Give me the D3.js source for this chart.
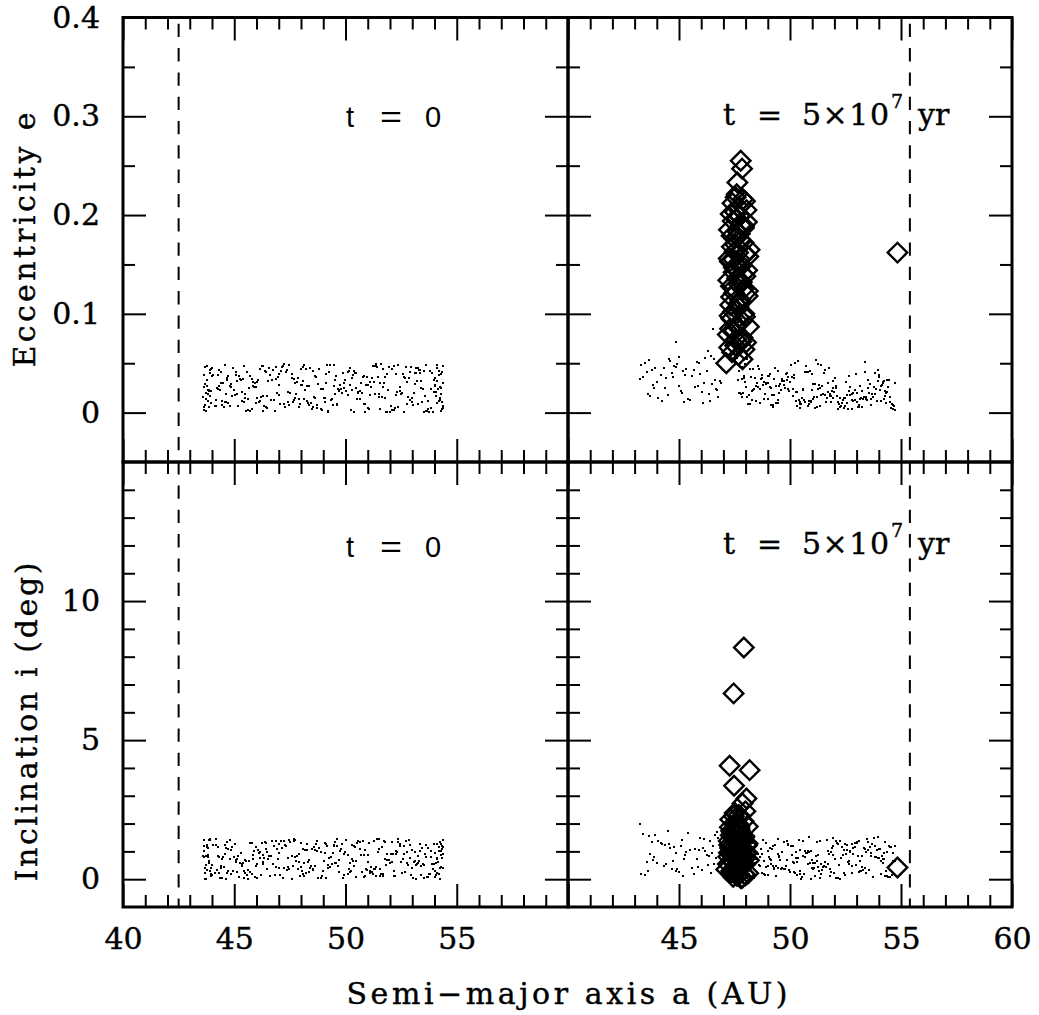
<!DOCTYPE html>
<html>
<head>
<meta charset="utf-8">
<script src="https://d3js.org/d3.v7.min.js"></script>
<style>
    body { margin: 0; background: #fff; }
</style>
</head>
<body>
<div id="chart"></div>
<script>
// ---- data: t = 0 (semi-major axis, eccentricity, inclination) ----
var t0A = [
 47.83,44.12,52.07,49.55,45.91,53.68,50.34,46.77,51.29,43.88,48.46,54.02,
 51.63,45.08,48.92,53.11,44.71,50.58,47.40,52.95,46.05,49.23,54.31,43.67,
 44.96,49.81,46.52,52.38,48.14,53.90,43.79,50.11,45.63,51.47,47.25,54.18,
 53.27,46.89,50.72,44.33,52.61,47.98,45.44,49.07,51.85,43.95,48.70,54.37,
 48.29,52.19,44.58,50.96,46.31,53.44,47.12,49.66,45.17,51.08,43.72,54.09,
 50.45,43.84,47.67,53.76,45.29,51.94,48.55,44.87,52.43,46.60,49.38,54.25,
 46.14,51.38,49.92,44.06,53.02,47.51,52.78,45.73,48.83,43.61,50.27,54.40,
 52.84,48.03,45.52,50.63,43.99,47.06,53.59,46.41,51.16,44.45,49.47,54.13,
 45.81,49.14,53.35,47.89,51.72,44.22,50.89,46.96,52.26,43.76,48.38,53.97,
 49.71,44.64,51.53,46.23,53.83,48.61,43.91,52.52,45.37,50.18,47.32,54.28,
 47.15,53.21,45.02,50.81,44.39,52.13,48.97,46.68,51.59,43.65,49.02,54.21,
 51.31,46.47,49.58,44.79,52.89,48.24,45.96,53.52,47.71,50.39,43.83,54.06,
 44.27,50.02,47.94,53.15,45.66,51.79,49.31,46.12,52.68,48.49,43.70,54.34,
 53.64,47.36,51.01,44.91,49.88,46.35,52.31,45.24,50.52,48.07,43.96,54.15,
 48.78,45.47,52.72,50.24,46.93,53.39,44.16,51.68,47.58,49.43,43.63,53.94,
 46.73,52.46,44.53,49.99,51.22,47.03,53.73,45.86,48.32,50.77,43.89,54.27,
 50.67,44.02,48.19,52.97,46.27,53.18,45.39,49.62,51.41,47.79,44.49,54.11,
 45.13,51.86,49.27,47.46,53.48,43.81,50.93,46.58,52.22,48.65,45.69,54.33,
 52.04,48.41,46.01,50.49,44.69,53.61,47.22,51.12,49.76,45.57,43.74,53.99,
 49.17,53.07,45.78,51.57,47.63,44.31,52.59,46.44,50.14,48.88,43.93,54.23,
 47.42,50.86,44.84,53.33,46.17,52.01,48.59,45.21,51.93,49.51,43.68,54.38,
 51.76,45.92,49.06,52.81,44.19,47.87,53.26,50.31,46.84,48.13,44.62,54.04,
 44.74,52.34,47.01,50.71,45.49,53.86,48.94,46.29,51.26,49.36,43.86,54.19,
 53.41,46.66,50.38,48.52,45.06,51.49,44.41,52.76,47.18,49.84,43.78,54.35,
 48.02,51.17,45.33,53.69,46.99,50.09,44.82,52.49,47.74,49.21,43.62,54.01,
 50.99,44.26,52.16,47.59,53.01,45.84,49.69,46.38,51.83,48.36,44.57,54.29,
 46.49,53.53,48.71,44.97,51.36,47.29,52.64,45.61,50.43,49.11,43.85,54.12,
 52.28,47.91,44.66,50.56,46.03,53.29,48.26,51.67,45.11,49.64,43.97,54.24,
 45.42,49.48,53.13,46.87,51.04,44.37,52.92,48.11,47.47,50.83,43.66,54.07,
 49.94,46.21,51.51,44.44,53.79,47.68,45.99,52.11,48.68,50.21,43.73,54.36
];
var t0E = [
 .031,.007,.044,.019,.026,.002,.038,.013,.047,.023,.010,.035,
 .016,.041,.004,.029,.037,.021,.011,.046,.033,.001,.025,.008,
 .045,.024,.032,.006,.014,.040,.027,.018,.003,.036,.049,.012,
 .009,.034,.020,.043,.001,.028,.047,.015,.039,.022,.005,.030,
 .027,.003,.048,.036,.017,.011,.042,.024,.007,.031,.020,.045,
 .040,.019,.013,.001,.033,.046,.006,.029,.022,.038,.014,.026,
 .012,.047,.025,.038,.008,.020,.031,.002,.044,.016,.035,.005,
 .035,.028,.002,.022,.045,.009,.017,.041,.026,.012,.048,.032,
 .004,.039,.043,.014,.030,.025,.001,.036,.018,.047,.008,.021,
 .023,.011,.030,.047,.005,.037,.043,.020,.012,.028,.041,.002,
 .046,.032,.018,.009,.041,.003,.024,.033,.049,.006,.015,.038,
 .019,.005,.037,.027,.013,.044,.010,.001,.030,.042,.023,.017,
 .038,.022,.009,.045,.025,.015,.048,.011,.035,.004,.029,.041,
 .002,.043,.028,.017,.040,.007,.021,.034,.014,.046,.010,.024,
 .029,.015,.046,.003,.020,.032,.013,.044,.039,.008,.026,.001,
 .043,.026,.006,.033,.047,.018,.004,.027,.010,.036,.040,.019,
 .014,.037,.023,.011,.002,.040,.034,.008,.046,.019,.030,.048,
 .032,.001,.041,.048,.024,.012,.028,.045,.005,.015,.037,.011,
 .007,.045,.015,.025,.035,.048,.009,.018,.028,.041,.002,.033,
 .048,.020,.034,.004,.011,.027,.039,.006,.042,.024,.017,.013,
 .021,.009,.026,.040,.044,.001,.016,.037,.023,.033,.046,.007,
 .036,.030,.011,.016,.007,.035,.045,.023,.002,.048,.019,.028,
 .010,.048,.039,.030,.019,.024,.003,.047,.031,.013,.006,.042,
 .025,.013,.001,.042,.038,.016,.030,.009,.047,.020,.033,.004,
 .044,.035,.021,.012,.028,.041,.007,.019,.015,.002,.038,.027,
 .005,.024,.047,.035,.015,.031,.022,.042,.001,.027,.011,.039,
 .017,.042,.008,.023,.049,.006,.036,.014,.040,.030,.022,.010,
 .039,.006,.033,.020,.031,.043,.012,.026,.019,.009,.044,.015,
 .011,.027,.040,.046,.004,.023,.041,.032,.008,.037,.003,.021,
 .030,.016,.019,.008,.042,.034,.026,.003,.036,.045,.014,.047
];
var t0I = [
 0.84,0.21,1.33,0.57,1.02,0.09,0.66,1.21,0.35,1.41,0.48,0.93,
 1.17,0.63,0.04,0.99,0.29,1.38,0.77,0.15,1.06,0.52,1.26,0.41,
 0.31,1.09,0.72,1.44,0.13,0.55,1.24,0.87,0.02,0.96,0.39,1.15,
 0.58,1.36,0.25,0.81,1.19,0.44,0.06,1.30,0.70,0.18,1.00,1.42,
 1.28,0.11,0.90,0.33,0.62,1.12,1.39,0.47,0.83,0.24,0.01,0.74,
 0.07,0.79,1.43,0.20,0.95,0.68,0.37,1.04,1.25,0.12,0.56,1.32,
 0.97,0.45,0.16,1.22,0.03,1.35,0.59,0.26,1.13,0.85,0.71,0.40,
 1.40,0.28,0.64,1.07,0.50,0.14,0.89,1.29,0.43,0.05,1.18,0.76,
 0.19,1.26,1.01,0.61,1.37,0.34,0.10,0.73,0.92,1.16,0.27,0.53,
 0.69,0.00,0.38,1.31,0.80,1.05,1.44,0.22,0.49,0.60,1.20,0.86,
 1.11,0.54,1.27,0.08,0.42,0.91,0.30,1.37,0.17,0.78,0.65,1.03,
 0.36,0.98,0.60,0.74,1.23,0.23,1.14,0.04,1.40,0.46,0.88,0.15,
 0.82,1.41,0.12,0.51,0.67,1.34,0.44,0.94,0.27,1.08,0.02,1.19,
 1.24,0.33,0.87,1.16,0.06,0.76,0.99,0.57,1.30,0.20,0.41,0.63,
 0.05,0.70,1.36,0.28,1.10,0.48,1.22,0.13,0.85,0.93,1.42,0.37,
 0.53,1.20,0.45,0.96,0.19,1.28,0.09,0.72,0.61,1.38,0.31,1.02,
 1.35,0.16,1.06,0.39,0.88,0.01,0.58,1.18,1.44,0.66,0.79,0.24,
 0.26,0.92,0.75,1.42,0.55,1.13,0.35,0.83,0.11,0.47,1.29,1.07,
 0.90,0.41,0.03,0.65,1.32,0.81,1.39,0.29,1.00,0.14,0.52,1.25,
 1.19,0.62,1.30,0.10,0.46,0.24,0.71,1.09,0.37,0.98,1.41,0.00,
 0.43,1.04,0.18,1.27,0.77,0.59,1.15,0.08,0.68,1.34,0.22,0.89,
 0.73,0.07,0.94,0.50,1.43,0.36,0.82,1.23,0.16,0.60,1.11,0.30,
 1.07,1.33,0.40,0.86,0.23,1.01,0.12,0.54,1.37,0.78,0.64,0.19,
 0.14,0.84,1.21,0.32,0.69,1.44,0.49,0.97,0.05,1.26,0.34,0.75,
 1.31,0.27,0.56,1.12,0.95,0.17,1.40,0.63,0.80,0.42,1.03,0.09,
 0.61,1.17,0.29,0.02,1.06,0.86,0.25,1.35,0.51,0.70,1.24,0.45,
 0.38,0.50,1.39,0.79,0.13,1.22,0.91,0.33,1.14,0.04,0.57,1.28,
 1.02,0.89,0.21,1.36,0.54,0.65,1.05,0.18,0.74,1.43,0.11,0.40,
 0.28,1.23,0.67,0.44,1.29,0.03,0.76,1.10,0.35,0.87,1.18,0.58,
 0.92,0.14,1.08,0.71,0.20,1.38,0.47,0.62,1.27,0.26,0.83,1.16
];

// ---- data: t = 5e7 yr, particles not in resonance (dots) ----
var t1A = [
 43.24,44.61,45.87,43.92,46.35,44.18,45.02,46.71,43.55,45.49,
 44.93,46.12,43.71,45.66,44.37,46.58,43.38,45.21,44.76,46.02,
 45.94,43.83,46.44,44.05,45.33,46.83,44.52,43.47,45.71,46.27,
 44.24,45.58,43.64,46.66,44.85,45.12,43.99,46.19,45.40,44.68,
 46.49,43.31,45.08,44.43,46.76,45.79,43.77,44.99,46.08,45.27,
 44.31,46.61,43.59,45.91,44.72,46.38,45.16,43.86,44.57,46.88,
 44.88,46.52,46.31,
 50.31,47.84,53.12,48.57,51.66,54.43,49.09,52.78,48.93,50.87,53.95,51.40,
 52.55,49.71,47.69,51.23,54.28,48.41,50.12,53.37,49.48,52.06,54.71,51.95,
 48.72,53.64,50.58,47.97,52.29,49.33,51.81,54.09,50.94,48.26,53.03,51.17,
 54.56,51.52,48.05,52.91,49.86,50.43,47.76,53.48,51.03,49.17,52.67,48.64,
 49.52,52.18,54.19,48.88,50.69,53.26,51.34,47.91,52.43,50.05,54.62,49.95,
 51.08,48.33,52.84,50.26,53.79,49.62,54.34,51.73,47.63,53.15,49.01,50.81,
 53.53,50.99,49.24,54.01,48.15,52.37,51.59,48.79,50.51,53.88,47.82,52.98,
 48.49,54.75,51.27,49.78,52.61,47.73,53.41,50.18,51.88,49.39,54.22,52.12,
 50.76,49.13,53.71,52.24,48.68,51.46,50.37,54.51,48.02,53.09,51.98,49.57,
 52.81,47.95,50.64,54.13,49.44,53.32,48.37,51.76,52.49,50.02,48.99,54.66,
 49.89,53.19,52.03,48.21,51.14,54.38,50.47,49.28,53.82,47.66,51.63,52.72,
 51.35,48.56,54.27,50.91,52.95,49.07,53.58,48.11,50.23,51.92,54.05,49.66,
 54.17,52.41,49.35,47.88,50.73,53.01,51.21,48.84,52.58,49.81,53.67,50.39,
 48.29,50.97,51.84,53.44,49.16,52.17,54.47,50.58,48.61,53.91,51.31,47.79,
 53.28,49.51,48.07,51.69,54.58,50.14,52.86,49.93,53.73,48.45,52.26,50.83,
 50.08,54.09,52.64,49.23,51.49,47.86,53.17,51.02,49.71,54.31,48.76,52.33,
 52.19,48.91,50.55,53.99,48.34,51.78,49.46,54.68,50.29,52.79,47.99,53.51,
 49.12,51.57,54.36,50.44,53.06,48.52,52.48,49.87,51.26,48.18,53.84,50.96,
 51.83,53.39,48.66,52.09,50.17,54.24,49.58,51.11,53.62,50.69,49.03,47.71,
 53.96,50.33,51.94,48.81,52.71,49.29,50.86,53.23,48.28,51.38,54.49,52.54
];
var t1E = [
 .034,.052,.027,.045,.019,.038,.056,.023,.041,.013,
 .049,.030,.017,.043,.025,.054,.036,.011,.047,.021,
 .039,.028,.057,.015,.044,.032,.018,.050,.026,.042,
 .012,.037,.053,.024,.046,.020,.031,.055,.014,.040,
 .029,.048,.022,.035,.016,.051,.043,.027,.010,.038,
 .045,.033,.019,.050,.036,.012,.042,.025,.054,.030,
 .071,.085,.062,
 .021,.034,.008,.047,.015,.026,.039,.004,.030,.012,.043,.018,
 .010,.028,.042,.006,.022,.035,.017,.051,.013,.025,.003,.032,
 .038,.014,.024,.031,.007,.045,.019,.027,.011,.036,.020,.053,
 .005,.040,.016,.023,.033,.009,.046,.013,.029,.018,.037,.024,
 .027,.011,.031,.019,.041,.006,.025,.035,.015,.048,.008,.022,
 .016,.044,.020,.012,.026,.032,.010,.021,.055,.014,.030,.007,
 .033,.023,.006,.036,.018,.013,.043,.028,.009,.024,.016,.039,
 .012,.030,.049,.025,.004,.020,.014,.038,.022,.010,.032,.017,
 .041,.008,.019,.015,.034,.027,.052,.011,.026,.006,.021,.029,
 .019,.037,.013,.028,.010,.016,.024,.045,.007,.031,.014,.004,
 .024,.015,.035,.009,.029,.021,.005,.018,.040,.033,.011,.026,
 .007,.026,.017,.042,.013,.037,.020,.009,.050,.015,.023,.034,
 .030,.005,.027,.020,.047,.011,.016,.031,.018,.039,.008,.013,
 .022,.039,.011,.016,.025,.004,.033,.023,.044,.012,.028,.019,
 .014,.020,.054,.030,.009,.024,.012,.036,.016,.027,.006,.041,
 .036,.012,.022,.008,.019,.046,.027,.014,.032,.020,.035,.010,
 .009,.029,.015,.038,.023,.017,.042,.007,.021,.013,.049,.025,
 .026,.018,.033,.011,.006,.030,.015,.040,.024,.044,.019,.012,
 .017,.041,.010,.027,.035,.014,.023,.005,.029,.011,.037,.020,
 .032,.007,.025,.014,.018,.034,.009,.022,.013,.048,.016,.031
];
var t1I = [
 2.00,1.12,0.45,1.58,0.82,1.31,0.27,1.69,0.63,1.05,
 0.38,1.44,0.91,0.19,1.23,0.56,1.62,0.74,1.17,0.33,
 1.49,0.68,0.22,1.36,0.97,0.51,1.73,0.14,1.08,0.86,
 1.27,0.41,1.55,0.77,0.29,1.41,0.60,1.01,1.66,0.36,
 0.94,0.17,1.20,0.53,1.47,0.71,1.34,0.25,1.13,0.88,
 0.47,1.59,0.31,1.04,0.65,1.38,0.12,0.80,1.25,0.58,
 0.95,1.21,0.52,
 0.62,1.14,0.27,0.89,1.41,0.08,0.73,1.25,0.44,0.97,1.52,0.18,
 1.06,0.35,0.81,1.33,0.13,0.58,1.19,0.40,0.92,0.03,0.67,1.47,
 0.24,0.95,1.38,0.51,0.77,1.22,0.10,0.64,1.02,0.31,1.29,0.85,
 1.17,0.46,0.05,1.31,0.69,0.20,0.90,1.45,0.37,1.08,0.56,0.79,
 0.83,1.27,0.60,0.14,1.00,0.43,1.36,0.71,0.22,1.18,0.93,0.33,
 0.39,0.07,1.11,0.75,1.49,0.96,0.28,0.55,1.24,0.66,0.16,1.03,
 1.34,0.70,0.47,1.09,0.19,0.87,0.61,1.40,0.02,0.79,1.21,0.52,
 0.15,1.20,0.88,0.36,0.63,1.42,0.98,0.25,1.13,0.49,0.74,1.30,
 0.94,0.54,1.26,0.01,1.07,0.32,0.76,1.16,0.59,1.37,0.21,0.68,
 0.48,1.39,0.17,0.84,0.41,1.12,0.05,0.90,1.28,0.26,1.01,0.65,
 1.23,0.29,0.72,1.46,0.57,0.11,1.05,0.38,0.80,1.19,0.45,0.99,
 0.06,0.91,1.32,0.60,1.15,0.78,0.34,1.48,0.23,0.86,1.10,0.42,
 0.71,1.04,0.12,0.53,0.95,1.35,0.64,0.20,1.22,0.47,0.82,1.40,
 1.29,0.40,0.97,0.24,0.69,0.04,1.18,0.85,0.50,1.06,0.30,0.76,
 0.33,0.81,1.44,1.02,0.15,0.61,0.89,1.27,0.09,0.73,1.38,0.54,
 0.87,0.19,0.66,1.21,0.43,1.09,0.28,0.58,1.33,0.13,0.92,1.15,
 0.52,1.31,0.08,0.77,1.16,0.36,1.43,0.67,0.96,0.22,0.59,1.04,
 1.11,0.63,0.98,0.30,0.84,1.25,0.14,1.37,0.44,0.71,1.20,0.02,
 0.27,1.07,0.49,1.39,0.57,0.93,0.35,0.11,1.14,0.80,0.46,1.28,
 0.75,0.16,1.19,0.65,1.01,0.39,1.50,0.83,0.26,0.55,0.09,0.91
];

// ---- data: t = 5e7 yr, resonant particles (diamonds) ----
var resA = [
 47.78,47.84,47.63,47.92,47.46,47.28,48.18,47.48,48.04,47.86,
 47.13,47.86,47.55,47.41,47.70,47.97,47.33,47.61,48.06,47.25,
 47.74,47.50,47.91,47.38,47.66,48.12,47.29,47.82,47.57,47.99,
 47.22,47.69,47.44,48.09,47.76,47.31,47.59,47.94,47.36,47.72,
 48.15,47.49,47.20,47.81,47.53,47.95,47.39,47.67,47.26,48.02,
 47.58,47.85,47.43,47.71,48.10,47.34,47.62,47.89,47.47,47.75,
 47.24,48.00,47.54,47.80,47.37,47.65,47.93,47.42,47.73,47.52,
 47.88,47.60,47.35,47.83,48.07,47.51,47.68,47.30,47.97,47.56,
 47.79,47.45,47.90,47.64,54.84
];
var resE = [
 .255,.247,.233,.187,.142,.098,.165,.121,.205,.076,
 .050,.054,.218,.212,.208,.214,.201,.196,.193,.185,
 .181,.176,.172,.168,.162,.158,.153,.149,.145,.138,
 .134,.130,.126,.118,.114,.109,.104,.100,.095,.091,
 .087,.083,.079,.072,.068,.064,.061,.058,.066,.071,
 .088,.093,.102,.111,.123,.128,.136,.140,.147,.151,
 .156,.160,.170,.174,.179,.183,.189,.194,.199,.203,
 .216,.221,.117,.132,.144,.163,.107,.085,.097,.074,
 .190,.155,.125,.178,.162
];
var resI = [
 1.10,0.62,1.45,8.33,6.68,4.08,3.92,3.36,2.90,2.72,
 0.35,0.88,1.92,0.27,2.31,0.74,1.58,0.12,1.21,0.95,
 1.76,0.43,2.08,0.66,1.34,0.21,1.87,0.58,1.02,2.44,
 0.81,1.63,0.09,1.28,0.47,2.15,0.99,1.52,0.30,1.84,
 0.68,1.41,0.55,1.16,2.02,0.18,1.70,0.39,1.23,0.92,
 1.97,0.05,1.48,0.71,1.89,0.24,1.07,0.50,2.26,0.85,
 1.37,0.14,1.66,0.77,1.19,0.33,1.55,0.61,1.93,0.42,
 1.09,0.26,1.74,1.31,0.96,2.38,0.15,1.12,0.53,1.60,
 0.03,0.89,1.44,0.70,0.42
];

// ---- axes: ticks and labels ----
var aMajor = [40, 45, 50, 55, 60];
var aMinor = [41, 42, 43, 44, 46, 47, 48, 49, 51, 52, 53, 54, 56, 57, 58, 59];
var aLabelsLeft = ["40", "45", "50", "55", ""];
var aLabelsRight = ["", "45", "50", "55", "60"];
var eMajor = [0, 0.1, 0.2, 0.3, 0.4];
var eMinor = [0.05, 0.15, 0.25, 0.35];
var eLabels = ["0", "0.1", "0.2", "0.3", "0.4"];
var iMajor = [0, 5, 10];
var iMinor = [1, 2, 3, 4, 6, 7, 8, 9, 11, 12, 13, 14];
var iLabels = ["0", "5", "10"];
var edgeLeft = 42.5, edgeRight = 55.4;   // dashed lines

var width = 1039, height = 1015;
var serif = "'DejaVu Serif', serif";
var sans = "'Liberation Sans', Arial, sans-serif";

var svg = d3.select("#chart").append("svg")
    .attr("width", width)
    .attr("height", height);
svg.append("rect").attr("width", width).attr("height", height).attr("fill", "#fff");

var xL = d3.scaleLinear().domain([40, 60]).range([123, 568]);
var xR = d3.scaleLinear().domain([40, 60]).range([568, 1012]);
var yE = d3.scaleLinear().domain([-0.05, 0.4]).range([462, 17.5]);
var yI = d3.scaleLinear().domain([-1, 15]).range([907, 462]);

var t0 = t0A.map(function (a, k) { return { a: a, e: t0E[k], inc: t0I[k] }; });
var t1 = t1A.map(function (a, k) { return { a: a, e: t1E[k], inc: t1I[k] }; });
var res = resA.map(function (a, k) { return { a: a, e: resE[k], inc: resI[k] }; });

var panels = [
    { x: xL, y: yE, key: "e", dots: t0, diamonds: [], xlab: null, ylab: eLabels, yMajor: eMajor, yMinor: eMinor, edge: edgeLeft },
    { x: xR, y: yE, key: "e", dots: t1, diamonds: res, xlab: null, ylab: null, yMajor: eMajor, yMinor: eMinor, edge: edgeRight },
    { x: xL, y: yI, key: "inc", dots: t0, diamonds: [], xlab: aLabelsLeft, ylab: iLabels, yMajor: iMajor, yMinor: iMinor, edge: edgeLeft },
    { x: xR, y: yI, key: "inc", dots: t1, diamonds: res, xlab: aLabelsRight, ylab: null, yMajor: iMajor, yMinor: iMinor, edge: edgeRight }
];

function ticks(g, axisFn, scale, pos, major, minor, labels, horizontal) {
    var t = horizontal ? "translate(0," + pos + ")" : "translate(" + pos + ",0)";
    g.append("g").attr("transform", t)
        .call(axisFn(scale).tickValues(minor).tickSize(-12).tickFormat(""));
    g.append("g").attr("transform", t)
        .call(axisFn(scale).tickValues(major).tickSize(-23)
            .tickPadding(horizontal ? 21 : 23)
            .tickFormat(function (d, i) { return labels ? labels[i] : ""; }));
}

var diamond = d3.symbol().type(d3.symbolSquare).size(190);

panels.forEach(function (p) {
    var g = svg.append("g");
    var x = p.x, y = p.y;

    // dots snapped to whole pixels so they stay crisp
    g.append("g").attr("shape-rendering", "crispEdges").selectAll("rect")
        .data(p.dots)
        .enter().append("rect")
        .attr("x", function (d) { return Math.round(x(d.a)) - 1; })
        .attr("y", function (d) { return Math.round(y(d[p.key])) - 1; })
        .attr("width", 2)
        .attr("height", 2)
        .attr("fill", "#000");

    g.append("g").selectAll("path")
        .data(p.diamonds)
        .enter().append("path")
        .attr("d", diamond)
        .attr("transform", function (d) {
            return "translate(" + x(d.a) + "," + y(d[p.key]) + ") rotate(45)";
        })
        .attr("fill", "none")
        .attr("stroke", "#000")
        .attr("stroke-width", 2.4);

    var x0 = x.range()[0], x1 = x.range()[1];
    var y0 = y.range()[0], y1 = y.range()[1];

    ticks(g, d3.axisBottom, x, y0, aMajor, aMinor, p.xlab, true);
    ticks(g, d3.axisTop, x, y1, aMajor, aMinor, null, true);
    ticks(g, d3.axisLeft, y, x0, p.yMajor, p.yMinor, p.ylab, false);
    ticks(g, d3.axisRight, y, x1, p.yMajor, p.yMinor, null, false);

    g.append("rect")
        .attr("x", x0).attr("y", y1)
        .attr("width", x1 - x0).attr("height", y0 - y1)
        .attr("fill", "none")
        .attr("stroke", "#000")
        .attr("stroke-width", 3);
});

svg.selectAll(".domain").remove();
svg.selectAll(".tick line").attr("stroke", "#000").attr("stroke-width", 2);
svg.selectAll(".tick text")
    .attr("font-family", serif)
    .attr("font-size", 30)
    .attr("fill", "#000")
    .attr("stroke", "#000")
    .attr("stroke-width", 0.4);

// dashed edges, through both rows
[[xL, edgeLeft], [xR, edgeRight]].forEach(function (c) {
    svg.append("line")
        .attr("x1", c[0](c[1])).attr("x2", c[0](c[1]))
        .attr("y1", yE(0.4)).attr("y2", yI(-1))
        .attr("stroke", "#000")
        .attr("stroke-width", 2)
        .attr("stroke-dasharray", "13.3,11")
        .attr("stroke-dashoffset", 18);
});

// axis titles
var titles = svg.append("g")
    .attr("font-family", serif).attr("font-size", 30)
    .attr("text-anchor", "middle")
    .attr("stroke", "#000").attr("stroke-width", 0.4);

titles.append("text")
    .attr("x", 567).attr("y", 1004)
    .attr("textLength", 441).attr("lengthAdjust", "spacing")
    .text("Semi\u2212major axis a (AU)");

titles.append("text")
    .attr("transform", "translate(35,240) rotate(-90)")
    .attr("textLength", 255).attr("lengthAdjust", "spacing")
    .text("Eccentricity e");

titles.append("text")
    .attr("transform", "translate(37,722) rotate(-90)")
    .attr("textLength", 319).attr("lengthAdjust", "spacing")
    .text("Inclination i (deg)");

// time labels
[127, 557].forEach(function (base) {
    var g = svg.append("g").attr("font-family", sans).attr("font-size", 29);
    g.append("text").attr("x", 346).attr("y", base).text("t");
    g.append("text").attr("x", 380).attr("y", base)
        .attr("textLength", 22).attr("lengthAdjust", "spacingAndGlyphs").text("=");
    g.append("text").attr("x", 425).attr("y", base).text("0");
});

[125, 554].forEach(function (base) {
    var g = svg.append("g").attr("font-family", serif).attr("font-size", 30)
        .attr("stroke", "#000").attr("stroke-width", 0.4);
    g.append("text").attr("x", 723).attr("y", base).text("t");
    g.append("text").attr("x", 757).attr("y", base).text("=");
    g.append("text").attr("x", 802).attr("y", base)
        .attr("textLength", 87).attr("lengthAdjust", "spacing").text("5\u00d710");
    g.append("text").attr("x", 891).attr("y", base - 17).attr("font-size", 19).text("7");
    g.append("text").attr("x", 918).attr("y", base).text("yr");
});
</script>
</body>
</html>
